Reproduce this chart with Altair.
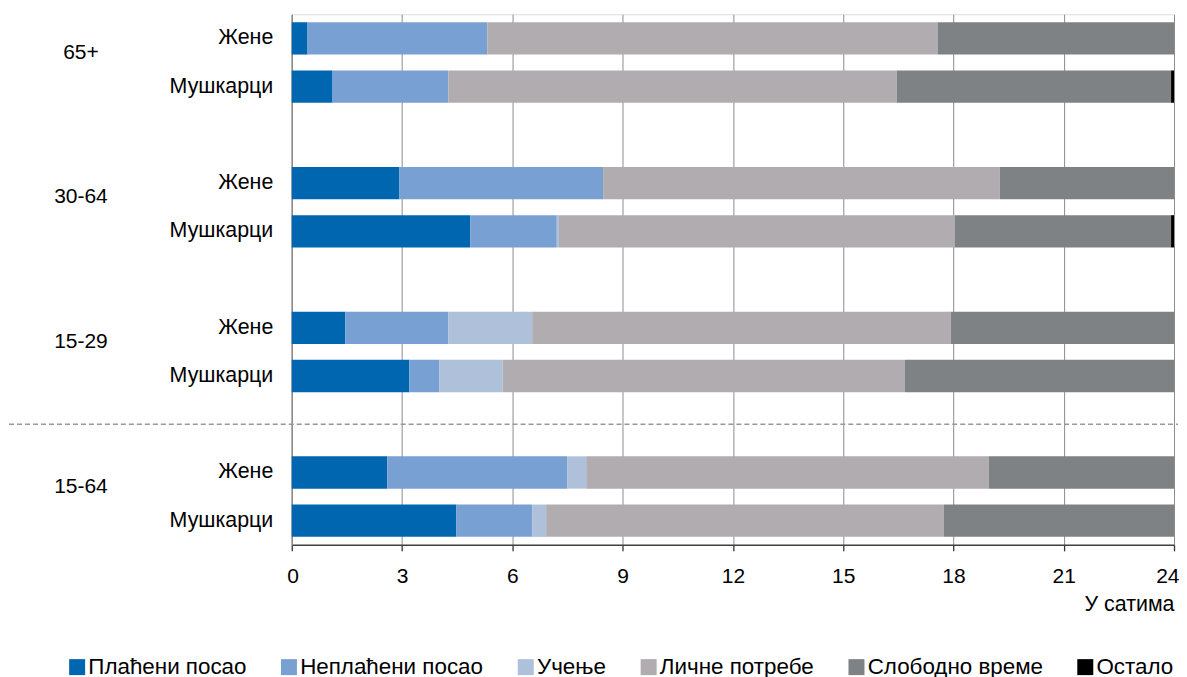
import altair as alt
import pandas as pd

groups = ["65+", "30-64", "15-29", "15-64"]
genders = ["Жене", "Мушкарци"]
activities = ["Плаћени посао", "Неплаћени посао", "Учење", "Личне потребе", "Слободно време", "Остало"]
colors = ["#0066b0", "#78a0d2", "#afc0da", "#b0acaf", "#7f8285", "#000000"]

# hours per activity, per (group, gender)
values = {
    ("65+", "Жене"):       [0.43, 4.89, 0.00, 12.25, 6.43, 0.00],
    ("65+", "Мушкарци"):   [1.11, 3.15, 0.00, 12.20, 7.46, 0.08],
    ("30-64", "Жене"):     [2.93, 5.54, 0.00, 10.79, 4.74, 0.00],
    ("30-64", "Мушкарци"): [4.86, 2.35, 0.06, 10.77, 5.88, 0.08],
    ("15-29", "Жене"):     [1.46, 2.80, 2.28, 11.39, 6.07, 0.00],
    ("15-29", "Мушкарци"): [3.20, 0.81, 1.73, 10.94, 7.32, 0.00],
    ("15-64", "Жене"):     [2.60, 4.89, 0.52, 10.95, 5.04, 0.00],
    ("15-64", "Мушкарци"): [4.48, 2.06, 0.38, 10.82, 6.26, 0.00],
}

x_ticks = [0, 3, 6, 9, 12, 15, 18, 21, 24]

# y domain: bars plus empty spacer slots between groups
domain = []
for i, g in enumerate(groups):
    for s in genders:
        domain.append(f"{g}|{s}")
    if i < len(groups) - 1:
        domain.append(f"gap{i+1}|")

rows = []
for (g, s), vals in values.items():
    for k, (a, v) in enumerate(zip(activities, vals)):
        rows.append({"key": f"{g}|{s}", "activity": a, "hours": v, "ord": k})
df = pd.DataFrame(rows)

grp_df = pd.DataFrame({"key": [f"{g}|Жене" for g in groups], "label": groups})
sep_df = pd.DataFrame({"key": ["gap3|"]})

FONT = "Liberation Sans"
W, H = 883, 531

yscale = alt.Scale(domain=domain, paddingInner=0.33, paddingOuter=0.165)
yaxis = alt.Axis(title=None, labelExpr="split(datum.value, '|')[1]", ticks=False,
                 labelPadding=19, labelFontSize=21.4, labelColor="#000000", labelFont=FONT,
                 domainColor="#8c8c8c", domainWidth=1.5, grid=False, labelLimit=300)

bars = alt.Chart(df).mark_bar().encode(
    y=alt.Y("key:N", scale=yscale, axis=yaxis, sort=domain),
    x=alt.X("hours:Q", stack="zero",
            scale=alt.Scale(domain=[0, 24], nice=False),
            axis=alt.Axis(values=x_ticks, title="У сатима", titleAnchor="end", titleAlign="right",
                          titleFontSize=21.4, titleFontWeight="normal", titleFont=FONT, titleColor="#000000",
                          titlePadding=7, labelFontSize=21, labelFont=FONT, labelColor="#000000",
                          labelPadding=15, labelFlush=True, labelFlushOffset=5,
                          tickSize=6, tickColor="#333333", tickWidth=1.3,
                          domainColor="#404040", domainWidth=1.5,
                          grid=True, gridColor="#8c8c8c", gridWidth=1)),
    color=alt.Color("activity:N", scale=alt.Scale(domain=activities, range=colors),
                    legend=alt.Legend(title=None, orient="none", direction="horizontal", columns=6,
                                      legendX=-226, legendY=642, symbolType="square", symbolSize=256,
                                      symbolStrokeWidth=0, labelFontSize=22.4, labelFont=FONT,
                                      labelBaseline="middle",
                                      labelColor="#000000", columnPadding=31, labelOffset=0,
                                      labelLimit=300)),
    order=alt.Order("ord:Q"),
)

grp_text = alt.Chart(grp_df).mark_text(fontSize=21, font=FONT, color="#000000",
                                       align="center", baseline="middle", dy=-2).encode(
    y=alt.Y("key:N", scale=yscale, axis=yaxis, sort=domain, bandPosition=1),
    x=alt.value(-211),
    text="label:N",
)

sep = alt.Chart(sep_df).mark_rule(strokeDash=[5, 3], color="#999999", strokeWidth=1.3).encode(
    y=alt.Y("key:N", scale=yscale, axis=yaxis, sort=domain),
    x=alt.value(-283),
    x2=alt.value(887),
)

chart = alt.layer(bars, grp_text, sep).properties(
    width=W, height=H, padding={"left": 0, "top": 6, "right": 0, "bottom": 0}
).configure_view(stroke="#a0a0a0", strokeWidth=1.5).configure(font=FONT)

chart.save("out.html", embed_options={"renderer": "svg", "actions": False})
